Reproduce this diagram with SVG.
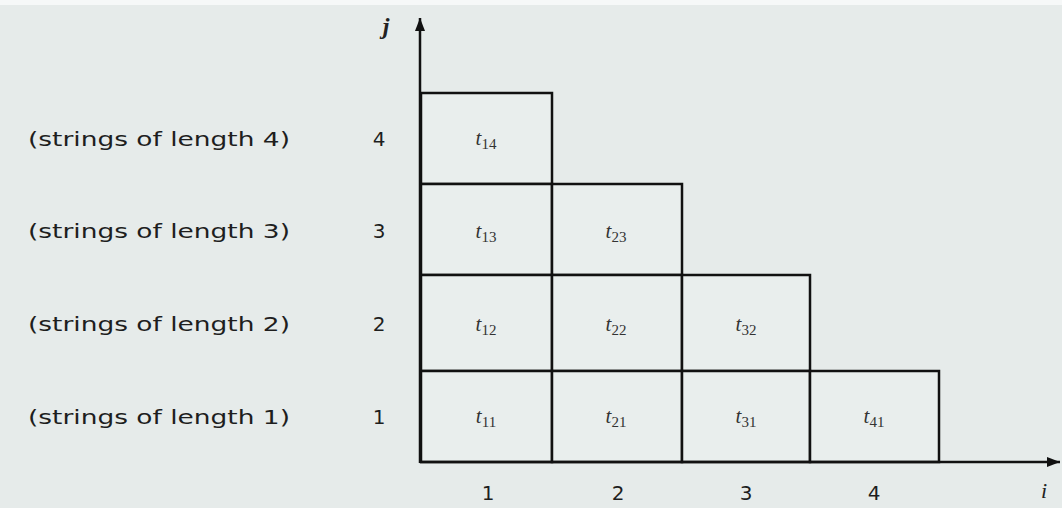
<svg xmlns="http://www.w3.org/2000/svg" width="1062" height="508" viewBox="0 0 1062 508">
  <style>
    .cell rect { fill: #e9eeed; stroke: #111; stroke-width: 2.5; }
    .cl { font-family: "Liberation Serif", serif; font-style: italic; font-size: 21px; fill: #333; text-anchor: middle; }
    .sub { font-size: 15px; font-style: normal; }
    .lbl { font-family: "DejaVu Sans", sans-serif; font-size: 20px; fill: #1e1e1e; }
    .num { font-family: "DejaVu Sans", sans-serif; font-size: 20px; fill: #1e1e1e; text-anchor: middle; }
    .ax { stroke: #111; stroke-width: 2.5; fill: none; }
  </style>
  <defs>
    <marker id="arr" markerWidth="14" markerHeight="14" refX="13" refY="6" orient="auto" markerUnits="userSpaceOnUse">
      <path d="M0,1 L13,6 L0,11 Z" fill="#111"/>
    </marker>
  </defs>
  <rect x="0" y="0" width="1062" height="508" fill="#e6ebea"/>
  <rect x="0" y="0" width="1062" height="5" fill="#f6f8f8"/>

  <g id="row-labels">
    <text class="lbl" x="28" y="146" textLength="262" lengthAdjust="spacingAndGlyphs">(strings of length 4)</text>
    <text class="lbl" x="28" y="238" textLength="262" lengthAdjust="spacingAndGlyphs">(strings of length 3)</text>
    <text class="lbl" x="28" y="331" textLength="262" lengthAdjust="spacingAndGlyphs">(strings of length 2)</text>
    <text class="lbl" x="28" y="424" textLength="262" lengthAdjust="spacingAndGlyphs">(strings of length 1)</text>
    <text class="num" x="379" y="146">4</text>
    <text class="num" x="379" y="238">3</text>
    <text class="num" x="379" y="331">2</text>
    <text class="num" x="379" y="424">1</text>
  </g>
  <g id="col-labels">
    <text class="num" x="488" y="500">1</text>
    <text class="num" x="618" y="500">2</text>
    <text class="num" x="746" y="500">3</text>
    <text class="num" x="874" y="500">4</text>
  </g>

  <g id="cell-14" class="cell"><rect x="421" y="93" width="131" height="91"/><text class="cl" x="486" y="145">t<tspan class="sub" dy="4">14</tspan></text></g>
  <g id="cell-13" class="cell"><rect x="421" y="184" width="131" height="91"/><text class="cl" x="486" y="238">t<tspan class="sub" dy="4">13</tspan></text></g>
  <g id="cell-23" class="cell"><rect x="552" y="184" width="130" height="91"/><text class="cl" x="616" y="238">t<tspan class="sub" dy="4">23</tspan></text></g>
  <g id="cell-12" class="cell"><rect x="421" y="275" width="131" height="96"/><text class="cl" x="486" y="331">t<tspan class="sub" dy="4">12</tspan></text></g>
  <g id="cell-22" class="cell"><rect x="552" y="275" width="130" height="96"/><text class="cl" x="616" y="331">t<tspan class="sub" dy="4">22</tspan></text></g>
  <g id="cell-32" class="cell"><rect x="682" y="275" width="128" height="96"/><text class="cl" x="746" y="331">t<tspan class="sub" dy="4">32</tspan></text></g>
  <g id="cell-11" class="cell"><rect x="421" y="371" width="131" height="91"/><text class="cl" x="486" y="423">t<tspan class="sub" dy="4">11</tspan></text></g>
  <g id="cell-21" class="cell"><rect x="552" y="371" width="130" height="91"/><text class="cl" x="616" y="423">t<tspan class="sub" dy="4">21</tspan></text></g>
  <g id="cell-31" class="cell"><rect x="682" y="371" width="128" height="91"/><text class="cl" x="746" y="423">t<tspan class="sub" dy="4">31</tspan></text></g>
  <g id="cell-41" class="cell"><rect x="810" y="371" width="129" height="91"/><text class="cl" x="874" y="423">t<tspan class="sub" dy="4">41</tspan></text></g>

  <g id="connectors">
    <line class="ax" x1="420" y1="463" x2="420" y2="18" marker-end="url(#arr)"/>
    <line class="ax" x1="420" y1="462" x2="1060" y2="462" marker-end="url(#arr)"/>
  </g>
  <g id="axis-labels">
    <text x="386" y="34" font-family="Liberation Serif, serif" font-style="italic" font-weight="bold" font-size="24" fill="#222" text-anchor="middle">j</text>
    <text x="1044" y="498" font-family="Liberation Serif, serif" font-style="italic" font-size="22" fill="#222" text-anchor="middle">i</text>
  </g>
</svg>
